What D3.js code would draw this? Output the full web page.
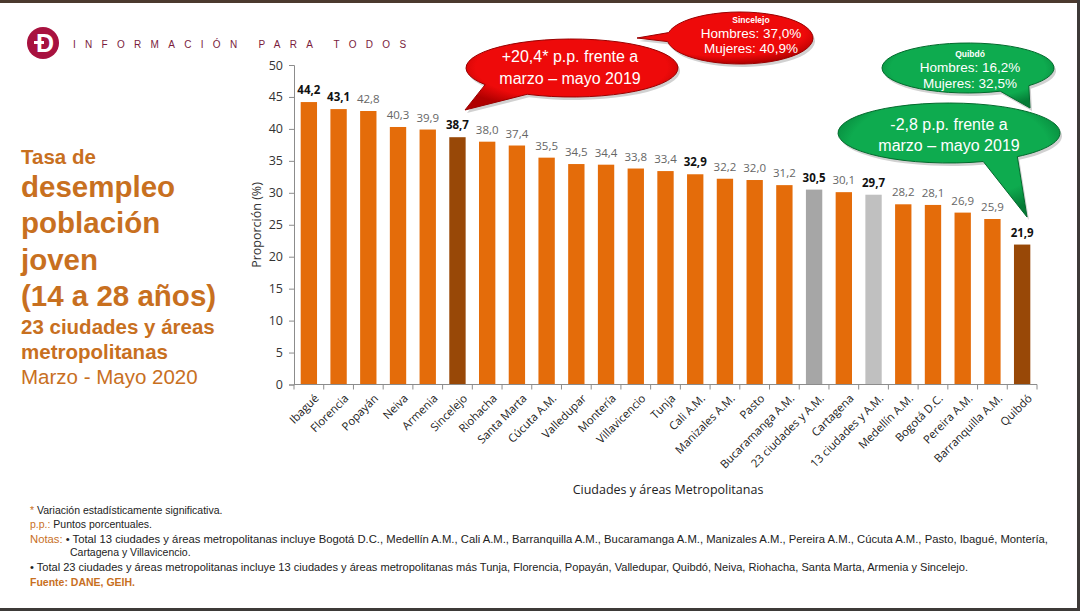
<!DOCTYPE html>
<html>
<head>
<meta charset="utf-8">
<script src="https://cdn.jsdelivr.net/npm/d3@7"></script>
<style>
  body { margin: 0; background: #fff; }
  svg { display: block; }
</style>
</head>
<body>
<script>
// datos
var ciudades = ["Ibagué", "Florencia", "Popayán", "Neiva", "Armenia", "Sincelejo", "Riohacha",
  "Santa Marta", "Cúcuta A.M.", "Valledupar", "Montería", "Villavicencio", "Tunja", "Cali A.M.",
  "Manizales A.M.", "Pasto", "Bucaramanga A.M.", "23 ciudades y A.M.", "Cartagena",
  "13 ciudades y A.M.", "Medellín A.M.", "Bogotá  D.C.", "Pereira A.M.", "Barranquilla A.M.", "Quibdó"];
var tasas = [44.2, 43.1, 42.8, 40.3, 39.9, 38.7, 38.0, 37.4, 35.5, 34.5, 34.4, 33.8, 33.4, 32.9,
  32.2, 32.0, 31.2, 30.5, 30.1, 29.7, 28.2, 28.1, 26.9, 25.9, 21.9];
var destacadas = ["Sincelejo", "Quibdó"];
var agregados = ["23 ciudades y A.M.", "13 ciudades y A.M."];
var etiquetasNegrita = ["Ibagué", "Florencia", "Sincelejo", "Cali A.M.", "23 ciudades y A.M.", "13 ciudades y A.M.", "Quibdó"];
var yTicks = [0, 5, 10, 15, 20, 25, 30, 35, 40, 45, 50];

var W = 1080, H = 611;
var svg = d3.select("body").append("svg")
  .attr("width", W)
  .attr("height", H);

var defs = svg.append("defs");
function gradiente(id, c1, c2) {
  var g = defs.append("radialGradient").attr("id", id)
    .attr("cx", "50%").attr("cy", "40%").attr("r", "60%");
  g.append("stop").attr("offset", "0%").attr("stop-color", c1);
  g.append("stop").attr("offset", "75%").attr("stop-color", c1);
  g.append("stop").attr("offset", "100%").attr("stop-color", c2);
}
gradiente("rojo", "#ee0a0a", "#b00000");
gradiente("verde", "#0eab4f", "#047a35");

// marco
svg.append("rect").attr("x", 0).attr("y", 0).attr("width", W).attr("height", 3).attr("fill", "#4b3a2f");
svg.append("rect").attr("x", W - 3).attr("y", 0).attr("width", 3).attr("height", H).attr("fill", "#3d3a38");
svg.append("rect").attr("x", 0).attr("y", H - 3).attr("width", W).attr("height", 3).attr("fill", "#3d3a38");

// logo
svg.append("circle").attr("cx", 43).attr("cy", 43).attr("r", 16).attr("fill", "#a8123f");
svg.append("text").attr("x", 45).attr("y", 52)
  .attr("text-anchor", "middle")
  .style("font", "bold 25px 'Liberation Sans', Arial")
  .attr("fill", "#fff")
  .text("D");
svg.append("rect").attr("x", 34).attr("y", 41).attr("width", 10).attr("height", 3).attr("fill", "#fff");

svg.append("text").attr("x", 73).attr("y", 48)
  .style("font", "10px 'Liberation Sans', Arial")
  .style("letter-spacing", "9.3px")
  .attr("fill", "#7a1c3c")
  .text("INFORMACIÓN PARA TODOS");

// titulo izquierda
var titulo = [
  { t: "Tasa de", y: 164, f: "bold 20.5px" },
  { t: "desempleo", y: 197, f: "bold 29.5px" },
  { t: "población", y: 233, f: "bold 29.5px" },
  { t: "joven", y: 270, f: "bold 29.5px" },
  { t: "(14 a 28 años)", y: 306, f: "bold 29.5px" },
  { t: "23 ciudades y áreas", y: 334, f: "bold 20.5px" },
  { t: "metropolitanas", y: 359, f: "bold 20.5px" },
  { t: "Marzo - Mayo 2020", y: 384, f: "20.5px" }
];
svg.selectAll(".titulo").data(titulo).enter().append("text")
  .attr("x", 21).attr("y", d => d.y)
  .style("font", d => d.f + " 'Liberation Sans', Arial")
  .attr("fill", "#c8701f")
  .text(d => d.t);

// escalas
var x = d3.scaleBand().domain(ciudades).range([294, 1037]).paddingInner(0.45).paddingOuter(0.225);
var y = d3.scaleLinear().domain([0, 50]).range([384.5, 65]);

function colorBarra(c) {
  if (destacadas.includes(c)) return "#984807";
  if (c === agregados[0]) return "#a6a6a6";
  if (c === agregados[1]) return "#c0c0c0";
  return "#e46c0a";
}

svg.selectAll(".barra").data(ciudades).enter().append("rect")
  .attr("x", d => x(d))
  .attr("y", (d, i) => y(tasas[i]))
  .attr("width", x.bandwidth())
  .attr("height", (d, i) => y(0) - y(tasas[i]))
  .attr("fill", d => colorBarra(d));

svg.selectAll(".valor").data(ciudades).enter().append("text")
  .attr("x", d => x(d) + x.bandwidth() / 2)
  .attr("y", (d, i) => y(tasas[i]) - 8)
  .attr("text-anchor", "middle")
  .style("font-family", "'Open Sans', sans-serif")
  .style("font-size", "11.5px")
  .style("font-weight", d => etiquetasNegrita.includes(d) ? "bold" : "normal")
  .attr("fill", d => etiquetasNegrita.includes(d) ? "#111" : "#666")
  .text((d, i) => d3.format(".1f")(tasas[i]).replace(".", ","));

// eje y
var ejeY = svg.append("g").attr("transform", "translate(294,0)")
  .call(d3.axisLeft(y).tickValues(yTicks).tickSize(5).tickPadding(6));
ejeY.select(".domain").attr("stroke", "#8c8c8c");
ejeY.selectAll(".tick line").attr("stroke", "#8c8c8c");
ejeY.selectAll(".tick text")
  .style("font-family", "'Open Sans', sans-serif")
  .style("font-size", "12.5px")
  .attr("fill", "#333");

svg.append("text")
  .attr("transform", "translate(261,225) rotate(-90)")
  .attr("text-anchor", "middle")
  .style("font", "12.5px 'Open Sans', sans-serif")
  .attr("fill", "#333")
  .text("Proporción (%)");

// eje x
var ejeX = svg.append("g").attr("transform", "translate(0," + y(0) + ")");
ejeX.append("line").attr("x1", 294).attr("x2", 1037).attr("stroke", "#8c8c8c");
var paso = x.step();
ejeX.selectAll(".marca").data(d3.range(ciudades.length + 1)).enter().append("line")
  .attr("x1", i => 294 + i * paso).attr("x2", i => 294 + i * paso)
  .attr("y1", 0).attr("y2", 5)
  .attr("stroke", "#8c8c8c");
ejeX.selectAll(".cat").data(ciudades).enter().append("text")
  .attr("transform", d => "translate(" + (x(d) + x.bandwidth() / 2 + 5) + ",9) rotate(-45)")
  .attr("text-anchor", "end")
  .attr("dy", "0.7em")
  .style("font", "11.3px 'Open Sans', sans-serif")
  .attr("fill", "#222")
  .text(d => d);

svg.append("text").attr("x", 668).attr("y", 494)
  .attr("text-anchor", "middle")
  .style("font", "12.5px 'Open Sans', sans-serif")
  .attr("fill", "#222")
  .text("Ciudades y áreas Metropolitanas");

// globos
function globo(cx, cy, rx, ry, a1, a2, tx, ty, relleno, borde) {
  var p = a => [cx + rx * Math.cos(a * Math.PI / 180), cy + ry * Math.sin(a * Math.PI / 180)];
  var A = p(a1), B = p(a2);
  var d = "M" + B + " A" + rx + "," + ry + " 0 1 1 " + A + " L" + tx + "," + ty + " Z";
  svg.append("path").attr("d", d)
    .attr("transform", "translate(2,3)")
    .attr("fill", "rgba(0,0,0,0.18)");
  svg.append("path").attr("d", d)
    .attr("fill", relleno)
    .attr("stroke", borde)
    .attr("stroke-width", 1);
}
function textos(x0, lineas) {
  lineas.forEach(function (l) {
    svg.append("text").attr("x", x0).attr("y", l.y)
      .attr("text-anchor", "middle")
      .style("font", l.f + " 'Liberation Sans', Arial")
      .attr("fill", "#fff")
      .text(l.t);
  });
}

globo(740, 38, 73, 26, 172, 192, 637, 38, "url(#rojo)", "#9a0000");
textos(751, [
  { t: "Sincelejo", y: 23, f: "bold 8.5px" },
  { t: "Hombres: 37,0%", y: 38, f: "13.5px" },
  { t: "Mujeres: 40,9%", y: 53, f: "13.5px" }
]);

globo(572, 68, 106, 29, 115, 145, 465, 110, "url(#rojo)", "#9a0000");
textos(570, [
  { t: "+20,4* p.p. frente a", y: 62, f: "16px" },
  { t: "marzo – mayo 2019", y: 84, f: "16px" }
]);

globo(968, 68, 86, 25, 45, 68, 1030, 108, "url(#verde)", "#036a2d");
textos(970, [
  { t: "Quibdó", y: 57, f: "bold 8.5px" },
  { t: "Hombres: 16,2%", y: 72, f: "13.5px" },
  { t: "Mujeres: 32,5%", y: 88, f: "13.5px" }
]);

globo(949, 133, 111, 30, 52, 72, 1027, 217, "url(#verde)", "#036a2d");
textos(949, [
  { t: "-2,8 p.p. frente a", y: 130, f: "16px" },
  { t: "marzo – mayo 2019", y: 151, f: "16px" }
]);

// notas
var notaFont = "10.5px 'Liberation Sans Narrow', 'Arial Narrow', sans-serif";
function nota(xp, yp, partes, largo) {
  var t = svg.append("text").attr("x", xp).attr("y", yp).style("font", notaFont);
  partes.forEach(function (p) {
    t.append("tspan").attr("fill", p.c || "#222").style("font-weight", p.b ? "bold" : "normal").text(p.t);
  });
  if (largo) t.attr("textLength", largo).attr("lengthAdjust", "spacingAndGlyphs");
}
nota(30, 514, [{ t: "* ", c: "#c8701f" }, { t: "Variación estadísticamente significativa." }]);
nota(30, 528, [{ t: "p.p.:", c: "#c8701f" }, { t: " Puntos porcentuales." }]);
nota(30, 543, [{ t: "Notas:", c: "#c8701f" }, { t: " • Total 13 ciudades y áreas metropolitanas incluye Bogotá D.C., Medellín A.M., Cali A.M., Barranquilla A.M., Bucaramanga A.M., Manizales A.M., Pereira A.M., Cúcuta A.M., Pasto, Ibagué, Montería," }], 1018);
nota(70, 556, [{ t: "Cartagena y Villavicencio." }]);
nota(30, 571, [{ t: "• Total 23 ciudades y áreas metropolitanas incluye 13 ciudades y áreas metropolitanas más Tunja, Florencia, Popayán, Valledupar, Quibdó, Neiva, Riohacha, Santa Marta, Armenia y Sincelejo." }], 938);
nota(30, 586, [{ t: "Fuente: DANE, GEIH.", c: "#c8701f", b: true }]);
</script>
</body>
</html>
